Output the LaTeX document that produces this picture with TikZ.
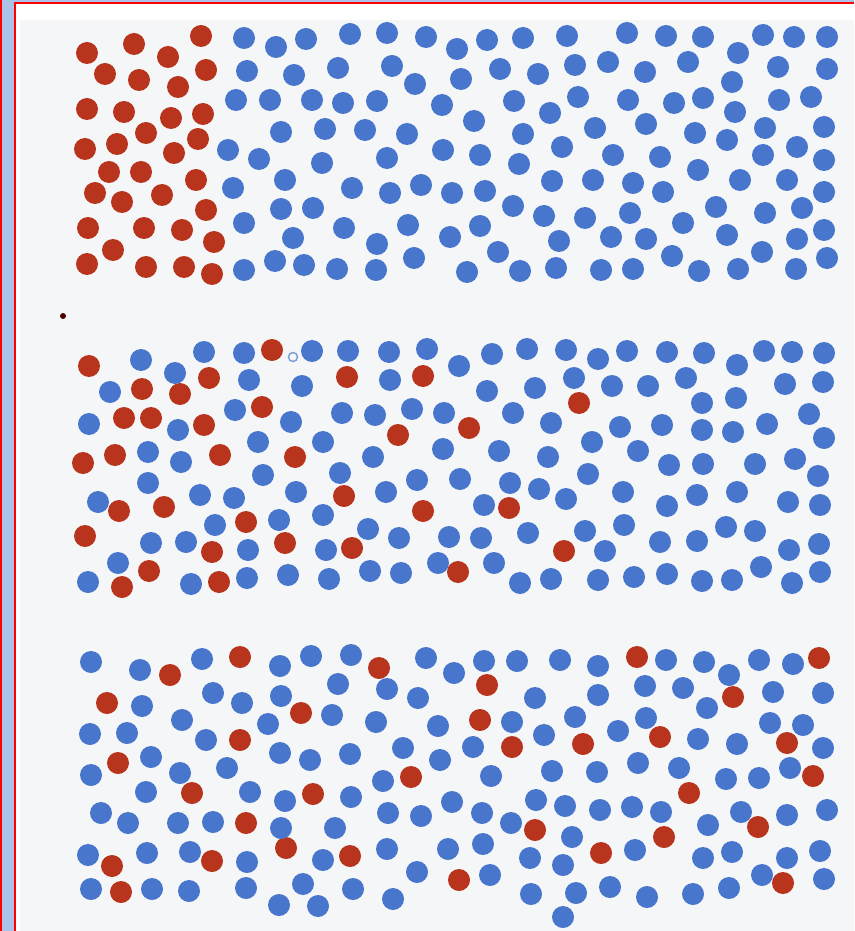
\documentclass[tikz,border=0pt]{standalone}
\usepackage{tikz}

\definecolor{dotblue}{RGB}{72,118,204}
\definecolor{dotred}{RGB}{184,52,28}
\definecolor{stripblue}{RGB}{170,193,232}
\definecolor{scangray}{RGB}{244,246,248}

\begin{document}
\begin{tikzpicture}[x=0.2mm, y=-0.2mm,
    bluedot/.style={fill=dotblue},
    reddot/.style={fill=dotred}]
\useasboundingbox (0,0) rectangle (854,931);

% page and frame
\fill[stripblue] (0,0) rectangle (854,931);
\fill[white] (15,3) rectangle (854,931);
\fill[scangray] (20,20) rectangle (854,931);
\draw[red, line width=0.4mm] (15,931) -- (15,3) -- (854,3);
\draw[red, line width=0.4mm] (1,0) -- (1,931);

% specks from the scan
\fill[black!70!red] (63,316) circle (0.6mm);
\draw[dotblue!70, line width=0.3mm] (293,357) circle (0.9mm);

% panel 1: red particles still on the left
\foreach \x/\y in {87/53, 134/44, 201/36, 168/57, 105/74, 139/80, 206/70, 178/87,
    87/109, 124/112, 171/118, 203/114, 146/133, 117/144, 85/149, 198/139,
    174/153, 109/172, 141/172, 196/180, 95/193, 122/202, 162/195, 206/210,
    88/228, 144/228, 182/230, 214/242, 113/250, 87/264, 146/267, 184/267, 212/274}
  \fill[reddot] (\x,\y) circle (2.2mm);

\foreach \x/\y in {244/38, 276/47, 247/71, 236/100, 270/100, 228/150, 259/159,
    233/188, 244/223, 275/261, 244/270, 306/39, 294/75, 281/132, 285/180,
    281/209, 293/238, 304/265,
    350/34, 387/33, 426/37, 457/49, 487/40, 523/38, 567/36, 338/68, 392/66,
    415/84, 461/79, 500/69, 538/74, 312/100, 343/103, 377/101, 442/105, 514/101,
    550/113, 325/129, 365/130, 407/134, 474/121, 523/134, 562/147, 322/163,
    387/158, 443/150, 480/155, 519/164, 352/188, 390/193, 421/185, 452/193,
    485/191, 552/181, 313/208, 513/206, 544/216, 344/228, 408/225, 480/226,
    377/244, 450/237, 498/252, 559/241, 337/269, 376/270, 414/258, 467/272,
    520/271, 556/268,
    627/33, 666/36, 703/37, 763/35, 794/37, 827/37, 575/65, 608/62, 645/72,
    688/62, 738/53, 778/67, 827/69, 578/97, 628/100, 674/103, 703/98, 732/82,
    735/112, 779/100, 811/97, 595/128, 646/124, 695/133, 727/140, 765/128,
    824/127, 613/155, 660/157, 698/170, 763/155, 797/147, 824/160, 593/180,
    633/183, 663/192, 740/180, 787/180, 824/192, 585/218, 630/213, 683/223,
    716/207, 765/213, 802/208, 611/237, 646/239, 727/235, 797/239, 824/230,
    672/256, 762/252, 601/270, 633/269, 699/271, 738/269, 796/269, 827/258}
  \fill[bluedot] (\x,\y) circle (2.2mm);

% panel 2: partly mixed
\foreach \x/\y in {89/366, 142/389, 180/394, 209/378, 272/350, 262/407, 124/418,
    151/418, 204/425, 115/455, 83/463, 220/455, 119/511, 164/507, 246/522,
    85/536, 212/552, 149/571, 122/587, 219/582, 295/457, 285/543,
    347/377, 423/376, 469/428, 398/435, 344/496, 423/511, 509/508, 352/548,
    458/572, 564/551, 579/403}
  \fill[reddot] (\x,\y) circle (2.2mm);

\foreach \x/\y in {141/360, 175/373, 204/352, 244/353, 249/380, 110/392, 235/410,
    89/424, 178/430, 148/452, 181/462, 258/442, 148/483, 263/475, 98/502,
    200/495, 234/498, 215/525, 151/543, 186/542, 248/550, 118/563, 88/582,
    191/584, 247/578, 291/422, 296/492, 279/520, 288/575, 302/386,
    312/351, 348/351, 389/352, 427/349, 459/366, 492/354, 527/349, 566/350,
    390/380, 487/391, 535/388, 574/378, 342/413, 375/415, 412/409, 444/413,
    513/413, 551/423, 323/442, 373/457, 443/449, 499/451, 548/457, 340/473,
    417/480, 460/479, 510/483, 539/489, 566/499, 386/492, 484/505, 323/515,
    368/529, 399/538, 449/537, 481/538, 528/533, 326/550, 438/563, 494/563,
    329/579, 370/571, 401/573, 520/583, 551/579,
    598/359, 627/351, 667/352, 704/353, 737/365, 764/351, 792/352, 824/353,
    612/386, 648/386, 686/378, 702/403, 736/398, 785/384, 823/382, 620/427,
    662/425, 702/430, 733/432, 767/424, 809/414, 824/438, 592/442, 638/451,
    588/474, 669/465, 703/464, 755/464, 795/459, 818/476, 623/492, 667/506,
    697/495, 737/492, 788/502, 820/505, 585/531, 624/525, 660/542, 697/541,
    726/527, 755/531, 789/550, 819/544, 605/551, 598/580, 634/577, 667/574,
    702/581, 732/580, 761/567, 792/583, 820/572}
  \fill[bluedot] (\x,\y) circle (2.2mm);

% panel 3: evenly mixed
\foreach \x/\y in {240/657, 170/675, 107/703, 240/740, 118/763, 192/793, 246/823,
    286/848, 212/861, 112/866, 121/892, 301/713,
    379/668, 487/685, 480/720, 512/747, 411/777, 313/794, 535/830, 350/856,
    459/880, 637/657, 819/658, 733/697, 583/744, 660/737, 787/743, 813/776,
    689/793, 758/827, 664/837, 601/853, 783/883}
  \fill[reddot] (\x,\y) circle (2.2mm);

\foreach \x/\y in {91/662, 140/670, 202/659, 142/706, 213/693, 242/703, 182/720,
    268/724, 90/734, 127/733, 206/740, 151/757, 180/773, 227/768, 91/775,
    146/792, 250/792, 101/813, 128/823, 178/823, 213/822, 88/855, 147/853,
    190/852, 247/862, 91/889, 152/889, 189/891, 246/888,
    280/666, 281/696, 280/753, 285/801, 281/828, 279/905, 303/884,
    311/656, 351/655, 426/658, 454/673, 484/661, 517/661, 338/684, 387/689,
    418/698, 535/698, 332/715, 376/722, 438/726, 512/722, 544/735, 310/760,
    350/754, 403/748, 440/760, 473/747, 383/781, 491/776, 351/797, 452/802,
    536/800, 388/813, 421/816, 482/813, 511/823, 335/828, 387/849, 448/849,
    483/844, 530/858, 323/860, 417/872, 490/875, 353/889, 393/899, 531/894,
    318/906, 560/660, 575/717, 552/771, 565/806, 563/865, 563/917,
    598/666, 666/660, 704/662, 759/660, 793/664, 645/686, 683/688, 729/675,
    598/695, 707/708, 773/692, 823/693, 646/718, 618/731, 698/739, 737/744,
    770/723, 803/725, 823/748, 597/772, 638/763, 679/768, 726/779, 759/778,
    790/768, 600/810, 632/807, 661/812, 708/825, 741/812, 787/815, 827/810,
    572/837, 635/850, 703/858, 732/852, 787/858, 820/851, 762/875, 824/879,
    576/893, 610/887, 647/897, 693/894, 729/888}
  \fill[bluedot] (\x,\y) circle (2.2mm);

\end{tikzpicture}
\end{document}
